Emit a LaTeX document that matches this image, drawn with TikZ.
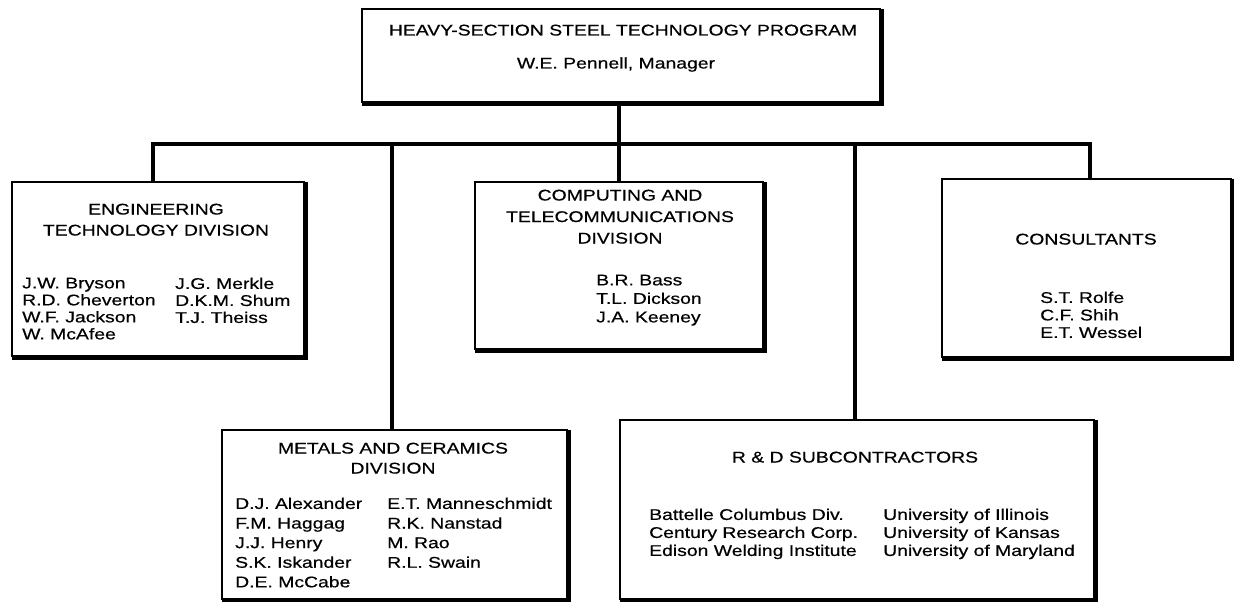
\documentclass[tikz,border=0pt]{standalone}
\usepackage{fontspec}
\setmainfont{Liberation Sans}[FakeStretch=1.25,FakeBold=0.5]
\begin{document}
\begin{tikzpicture}[x=1pt,y=-1pt,
  box/.style={draw,line width=1.8pt,inner sep=0pt,outer sep=0pt},
  shadowline/.style={line width=4pt,line join=miter},
  conn/.style={line width=4pt,line join=miter},
  head/.style={inner sep=0pt,align=center,font=\fontsize{15.5}{21}\selectfont},
  names/.style={inner sep=0pt,align=left,anchor=north west},
  single/.style={inner sep=0pt,anchor=base,font=\fontsize{15.5}{18}\selectfont}]
\useasboundingbox (0,0) rectangle (1234,602);
% boxes (L,T)-(R,B)
\node[box,minimum width=518pt,minimum height=93pt] (top) at (621,55.5) {};
\node[box,minimum width=292pt,minimum height=174pt] (eng) at (158,269) {};
\node[box,minimum width=288pt,minimum height=167pt] (comp) at (619,265.5) {};
\node[box,minimum width=289pt,minimum height=178pt] (cons) at (1086.5,268) {};
\node[box,minimum width=345pt,minimum height=169pt] (metals) at (394.5,514.5) {};
\node[box,minimum width=474pt,minimum height=179pt] (rd) at (857,509.5) {};
\foreach \b in {top,eng,comp,cons,metals,rd}{
  \draw[shadowline] ([xshift=1.5pt]\b.north east) -- ([xshift=1.5pt,yshift=-1.5pt]\b.south east) -- ([yshift=-1.5pt]\b.south west);
}
% connectors
\coordinate (busL) at (153,144);
\coordinate (busR) at (1090,144);
\draw[conn] (eng.north -| busL) -- (busL) -- (busR) -- (cons.north -| busR);
\draw[conn] (top.south -| comp.north) -- (comp.north);
\coordinate (mx) at (392,144);
\coordinate (rx) at (855,144);
\draw[conn] (mx) -- (metals.north -| mx);
\draw[conn] (rx) -- (rd.north -| rx);
% texts
\node[single] (t1) at (623,35.5) {HEAVY-SECTION STEEL TECHNOLOGY PROGRAM};
\node[single] (t2) at (616,68.5) {W.E. Pennell, Manager};
\node[head,anchor=north] (engh) at (156,203.5) {ENGINEERING\\TECHNOLOGY DIVISION};
\node[names,font=\fontsize{15.5}{17}\selectfont] (eng1) at (22,277.5) {J.W. Bryson\\R.D. Cheverton\\W.F. Jackson\\W. McAfee};
\node[names,font=\fontsize{15.5}{17}\selectfont] (eng2) at (175,277.5) {J.G. Merkle\\D.K.M. Shum\\T.J. Theiss};
\node[head,anchor=north,font=\fontsize{15.5}{21.5}\selectfont] (comph) at (620,189.5) {COMPUTING AND\\TELECOMMUNICATIONS\\DIVISION};
\node[names,font=\fontsize{15.5}{18.5}\selectfont] (comp1) at (596,274.5) {B.R. Bass\\T.L. Dickson\\J.A. Keeney};
\node[single] (consh) at (1086,244.5) {CONSULTANTS};
\node[names,font=\fontsize{15.5}{17.5}\selectfont] (cons1) at (1040,291.5) {S.T. Rolfe\\C.F. Shih\\E.T. Wessel};
\node[head,anchor=north,font=\fontsize{15.5}{20}\selectfont] (meth) at (393,442.5) {METALS AND CERAMICS\\DIVISION};
\node[names,font=\fontsize{15.5}{19.6}\selectfont] (met1) at (235,497.5) {D.J. Alexander\\F.M. Haggag\\J.J. Henry\\S.K. Iskander\\D.E. McCabe};
\node[names,font=\fontsize{15.5}{19.6}\selectfont] (met2) at (387,497.5) {E.T. Manneschmidt\\R.K. Nanstad\\M. Rao\\R.L. Swain};
\node[single] (rdh) at (855,462.5) {R \& D SUBCONTRACTORS};
\node[names,font=\fontsize{15.5}{18}\selectfont] (rd1) at (649,508.5) {Battelle Columbus Div.\\Century Research Corp.\\Edison Welding Institute};
\node[names,font=\fontsize{15.5}{18}\selectfont] (rd2) at (883,508.5) {University of Illinois\\University of Kansas\\University of Maryland};
\end{tikzpicture}
\end{document}
